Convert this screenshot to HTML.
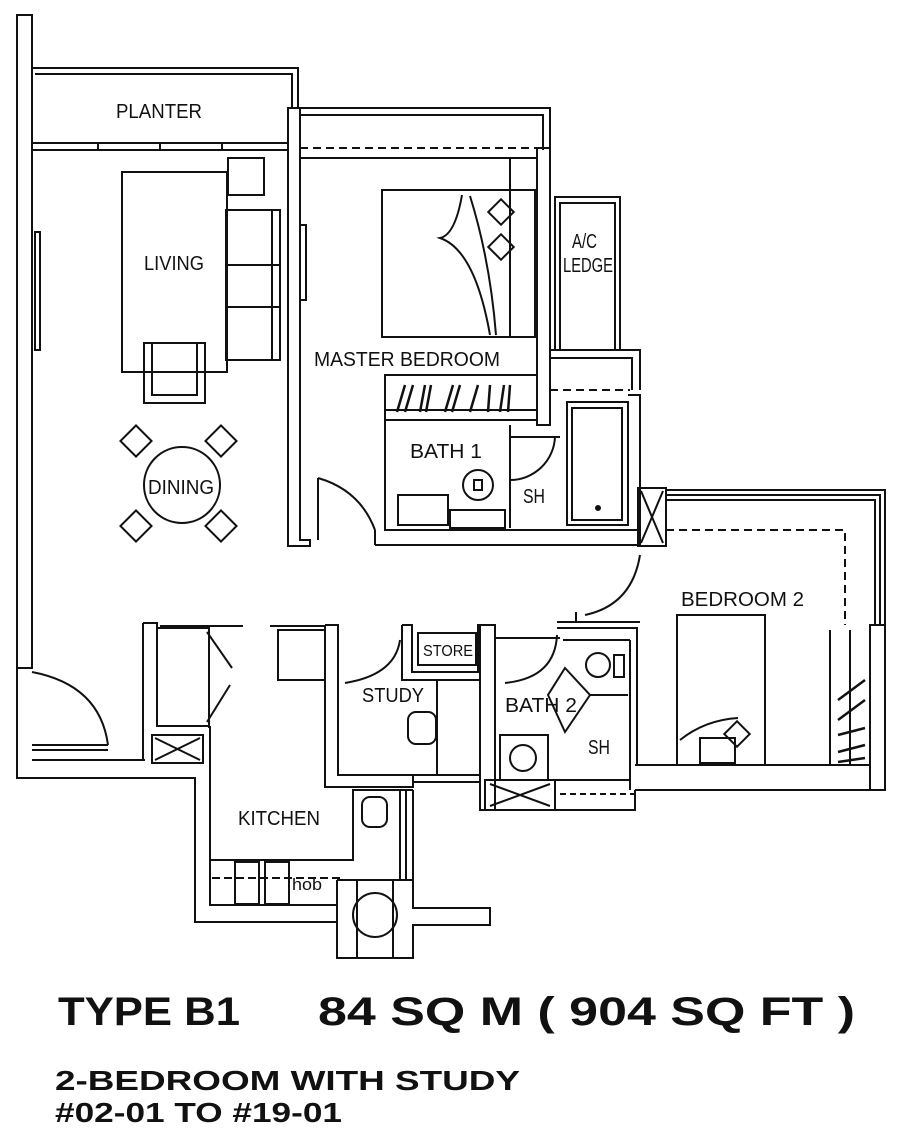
<!DOCTYPE html>
<html><head><meta charset="utf-8"><style>
html,body{margin:0;padding:0;background:#fff;width:900px;height:1132px;overflow:hidden}
svg{display:block}
text{font-family:"Liberation Sans",sans-serif;fill:#111}
</style></head><body>
<svg width="900" height="1132" viewBox="0 0 900 1132" xmlns="http://www.w3.org/2000/svg">
<g fill="none" stroke="#111" stroke-width="2">
<!-- left exterior wall -->
<rect x="17" y="15" width="15" height="653"/>
<!-- planter -->
<polyline points="32,68 298,68 298,108"/>
<polyline points="35,74 292,74 292,108"/>
<line x1="32" y1="143" x2="288" y2="143"/>
<line x1="32" y1="150" x2="288" y2="150"/>
<line x1="98" y1="143" x2="98" y2="150"/><line x1="160" y1="143" x2="160" y2="150"/><line x1="222" y1="143" x2="222" y2="150"/>
<rect x="35" y="232" width="5" height="118"/>
<!-- living/master wall -->
<polygon points="288,108 300,108 300,540 310,540 310,546 288,546"/>
<rect x="300" y="225" width="6" height="75"/>
<!-- master top -->
<polyline points="300,108 550,108 550,150"/>
<polyline points="300,115 543,115 543,150"/>
<line x1="300" y1="148" x2="537" y2="148" stroke-dasharray="8,5"/>
<line x1="300" y1="158" x2="537" y2="158"/>
<!-- living furniture -->
<rect x="228" y="158" width="36" height="37"/>
<polyline points="228,195 228,165"/>
<rect x="122" y="172" width="105" height="200"/>
<rect x="226" y="210" width="54" height="150"/>
<line x1="228" y1="265" x2="280" y2="265"/><line x1="228" y1="307" x2="280" y2="307"/>
<line x1="272" y1="210" x2="272" y2="360"/>
<rect x="144" y="343" width="61" height="60"/>
<rect x="152" y="343" width="45" height="52"/>
<!-- dining -->
<circle cx="182" cy="485" r="38"/>
<rect x="125" y="430" width="22" height="22" transform="rotate(45 136 441)"/>
<rect x="210" y="430" width="22" height="22" transform="rotate(45 221 441)"/>
<rect x="125" y="515" width="22" height="22" transform="rotate(45 136 526)"/>
<rect x="210" y="515" width="22" height="22" transform="rotate(45 221 526)"/>
<!-- master bedroom -->
<rect x="382" y="190" width="155" height="147"/>
<rect x="510" y="190" width="25" height="147"/>
<line x1="510" y1="158" x2="510" y2="190"/>
<path d="M462,195 Q455,235 440,238 Q475,250 490,335"/>
<path d="M470,196 Q490,260 496,335"/>
<rect x="492" y="203" width="18" height="18" transform="rotate(45 501 212)"/>
<rect x="492" y="238" width="18" height="18" transform="rotate(45 501 247)"/>
<rect x="537" y="148" width="13" height="277"/>
<rect x="385" y="375" width="152" height="45"/>
<line x1="385" y1="410" x2="537" y2="410"/>
<g stroke-width="2.5">
<line x1="397" y1="412" x2="405" y2="385"/><line x1="405" y1="412" x2="413" y2="385"/>
<line x1="420" y1="412" x2="425" y2="385"/><line x1="426" y1="412" x2="431" y2="385"/>
<line x1="445" y1="412" x2="453" y2="385"/><line x1="452" y1="412" x2="460" y2="385"/>
<line x1="470" y1="412" x2="478" y2="385"/><line x1="488" y1="412" x2="490" y2="385"/>
<line x1="500" y1="412" x2="504" y2="385"/><line x1="508" y1="412" x2="510" y2="385"/>
</g>
<!-- A/C ledge -->
<rect x="555" y="197" width="65" height="153"/>
<rect x="560" y="203" width="55" height="147"/>
<polyline points="550,350 640,350 640,390"/>
<polyline points="550,358 632,358 632,390"/>
<line x1="550" y1="390" x2="630" y2="390" stroke-dasharray="8,5"/>
<!-- bath 1 -->
<polyline points="385,420 385,530 640,530"/>
<line x1="375" y1="545" x2="640" y2="545"/>
<line x1="375" y1="530" x2="375" y2="545"/>
<line x1="510" y1="425" x2="510" y2="528"/>
<line x1="510" y1="437" x2="560" y2="437"/>
<path d="M510,480 A45,45 0 0 0 555,437"/>
<rect x="398" y="495" width="50" height="30"/>
<rect x="450" y="510" width="55" height="18"/>
<circle cx="478" cy="485" r="15"/>
<rect x="474" y="480" width="8" height="10"/>
<rect x="567" y="402" width="61" height="123"/>
<rect x="572" y="408" width="50" height="112"/>
<circle cx="598" cy="508" r="2" fill="#111"/>
<polyline points="628,395 640,395 640,545"/>
<rect x="638" y="488" width="28" height="58"/>
<line x1="641" y1="491" x2="663" y2="543"/><line x1="663" y1="491" x2="641" y2="543"/>
<!-- master door -->
<path d="M318,478 Q360,490 375,530"/>
<line x1="318" y1="478" x2="318" y2="540"/>
<!-- bedroom 2 top/right -->
<polyline points="666,490 885,490 885,625"/>
<polyline points="666,495 880,495 880,625"/>
<polyline points="666,500 875,500 875,625"/>
<polyline points="666,530 845,530 845,625" stroke-dasharray="8,5"/>
<rect x="870" y="625" width="15" height="165"/>
<line x1="830" y1="630" x2="830" y2="765"/>
<line x1="850" y1="630" x2="850" y2="765"/>
<g stroke-width="2.5">
<line x1="838" y1="700" x2="865" y2="680"/><line x1="838" y1="720" x2="865" y2="700"/>
<line x1="838" y1="735" x2="865" y2="728"/><line x1="838" y1="752" x2="865" y2="745"/>
<line x1="838" y1="762" x2="865" y2="758"/>
</g>
<polyline points="635,765 870,765"/>
<polyline points="635,790 885,790"/>
<rect x="677" y="615" width="88" height="150"/>
<path d="M680,740 Q705,720 738,718"/>
<rect x="700" y="738" width="35" height="25"/>
<rect x="728" y="725" width="18" height="18" transform="rotate(45 737 734)"/>
<!-- bedroom 2 door -->
<path d="M585,615 Q632,605 640,555"/>
<line x1="576" y1="612" x2="576" y2="622"/>
<!-- bath 2 / store / study -->
<polyline points="557,628 637,628 637,765"/>
<polyline points="557,622 640,622"/>
<rect x="480" y="625" width="15" height="185"/>
<polyline points="495,810 635,810 635,790"/>
<line x1="495" y1="638" x2="560" y2="638"/>
<line x1="563" y1="640" x2="630" y2="640"/>
<line x1="630" y1="640" x2="630" y2="790"/>
<path d="M505,683 Q555,678 557,635"/>
<polygon points="565,668 590,695 565,732 548,695"/>
<line x1="590" y1="695" x2="628" y2="695"/>
<circle cx="598" cy="665" r="12"/>
<rect x="614" y="655" width="10" height="22"/>
<rect x="500" y="735" width="48" height="45"/>
<circle cx="523" cy="758" r="13"/>
<rect x="485" y="780" width="70" height="30"/>
<line x1="490" y1="784" x2="550" y2="806"/><line x1="550" y1="784" x2="490" y2="806"/>
<line x1="555" y1="780" x2="630" y2="780"/>
<line x1="560" y1="794" x2="635" y2="794" stroke-dasharray="6,4"/>
<!-- store -->
<polyline points="402,625 412,625 412,672 478,672 478,625 490,625"/>
<rect x="418" y="633" width="58" height="32"/>
<polyline points="402,625 402,680 480,680"/>
<!-- study -->
<polyline points="325,625 338,625 338,775 413,775 413,787 325,787 325,625"/>
<line x1="402" y1="630" x2="402" y2="640"/>
<path d="M345,683 Q395,675 400,640"/>
<line x1="437" y1="680" x2="437" y2="775"/>
<line x1="413" y1="775" x2="480" y2="775"/>
<line x1="413" y1="782" x2="480" y2="782"/>
<rect x="408" y="712" width="28" height="32" rx="8"/>
<!-- kitchen -->
<polyline points="143,623 157,623 157,725"/>
<polyline points="143,623 143,760"/>
<rect x="157" y="628" width="52" height="98"/>
<line x1="160" y1="626" x2="243" y2="626"/>
<line x1="207" y1="632" x2="232" y2="668"/><line x1="207" y1="722" x2="230" y2="685"/>
<rect x="152" y="735" width="51" height="28"/>
<line x1="155" y1="738" x2="200" y2="760"/><line x1="200" y1="738" x2="155" y2="760"/>
<polyline points="32,760 145,760"/>
<polyline points="17,668 17,778 195,778 195,922 337,922"/>
<polyline points="208,727 210,727 210,905 337,905"/>
<line x1="270" y1="626" x2="325" y2="626"/>
<rect x="278" y="630" width="47" height="50"/>
<polyline points="210,860 353,860 353,790 413,790"/>
<line x1="212" y1="878" x2="340" y2="878" stroke-dasharray="8,4"/>
<rect x="235" y="862" width="24" height="42"/><rect x="265" y="862" width="24" height="42"/>
<rect x="362" y="797" width="25" height="30" rx="8"/>
<line x1="400" y1="790" x2="400" y2="880"/><line x1="406" y1="790" x2="406" y2="880"/>
<line x1="413" y1="790" x2="413" y2="880"/>
<polyline points="337,880 413,880 413,908 490,908 490,925 413,925 413,958 337,958 337,880"/>
<circle cx="375" cy="915" r="22"/>
<line x1="357" y1="880" x2="357" y2="958"/><line x1="393" y1="880" x2="393" y2="958"/>
<!-- entrance door -->
<path d="M32,672 Q100,685 108,745"/>
<line x1="32" y1="745" x2="108" y2="745"/>
<line x1="32" y1="750" x2="108" y2="750"/>
</g>
<g font-size="20">
<text x="116" y="118" textLength="86" lengthAdjust="spacingAndGlyphs">PLANTER</text>
<text x="144" y="270" textLength="60" lengthAdjust="spacingAndGlyphs">LIVING</text>
<text x="148" y="494" textLength="66" lengthAdjust="spacingAndGlyphs">DINING</text>
<text x="314" y="366" textLength="186" lengthAdjust="spacingAndGlyphs">MASTER  BEDROOM</text>
<text x="572" y="248" textLength="25" lengthAdjust="spacingAndGlyphs">A/C</text>
<text x="563" y="272" textLength="50" lengthAdjust="spacingAndGlyphs">LEDGE</text>
<text x="410" y="458" textLength="72" lengthAdjust="spacingAndGlyphs">BATH  1</text>
<text x="523" y="503" textLength="22" lengthAdjust="spacingAndGlyphs">SH</text>
<text x="681" y="606" textLength="123" lengthAdjust="spacingAndGlyphs">BEDROOM  2</text>
<text x="362" y="702" textLength="62" lengthAdjust="spacingAndGlyphs">STUDY</text>
<text x="505" y="712" textLength="72" lengthAdjust="spacingAndGlyphs">BATH  2</text>
<text x="588" y="754" textLength="22" lengthAdjust="spacingAndGlyphs">SH</text>
<text x="238" y="825" textLength="82" lengthAdjust="spacingAndGlyphs">KITCHEN</text>
<text x="292" y="890" font-size="17" textLength="30" lengthAdjust="spacingAndGlyphs">hob</text>
<text x="423" y="656" font-size="16" textLength="50" lengthAdjust="spacingAndGlyphs">STORE</text>
</g>
<g font-weight="bold" style="font-family:'DejaVu Sans','Liberation Sans',sans-serif">
<text x="58" y="1025" font-size="40" textLength="182" lengthAdjust="spacingAndGlyphs">TYPE B1</text>
<text x="318" y="1025" font-size="40" textLength="537" lengthAdjust="spacingAndGlyphs">84 SQ M ( 904 SQ FT )</text>
<text x="55" y="1090" font-size="28" textLength="465" lengthAdjust="spacingAndGlyphs">2-BEDROOM WITH STUDY</text>
<text x="55" y="1122" font-size="28" textLength="287" lengthAdjust="spacingAndGlyphs">#02-01 TO #19-01</text>
</g>
</svg>
</body></html>
